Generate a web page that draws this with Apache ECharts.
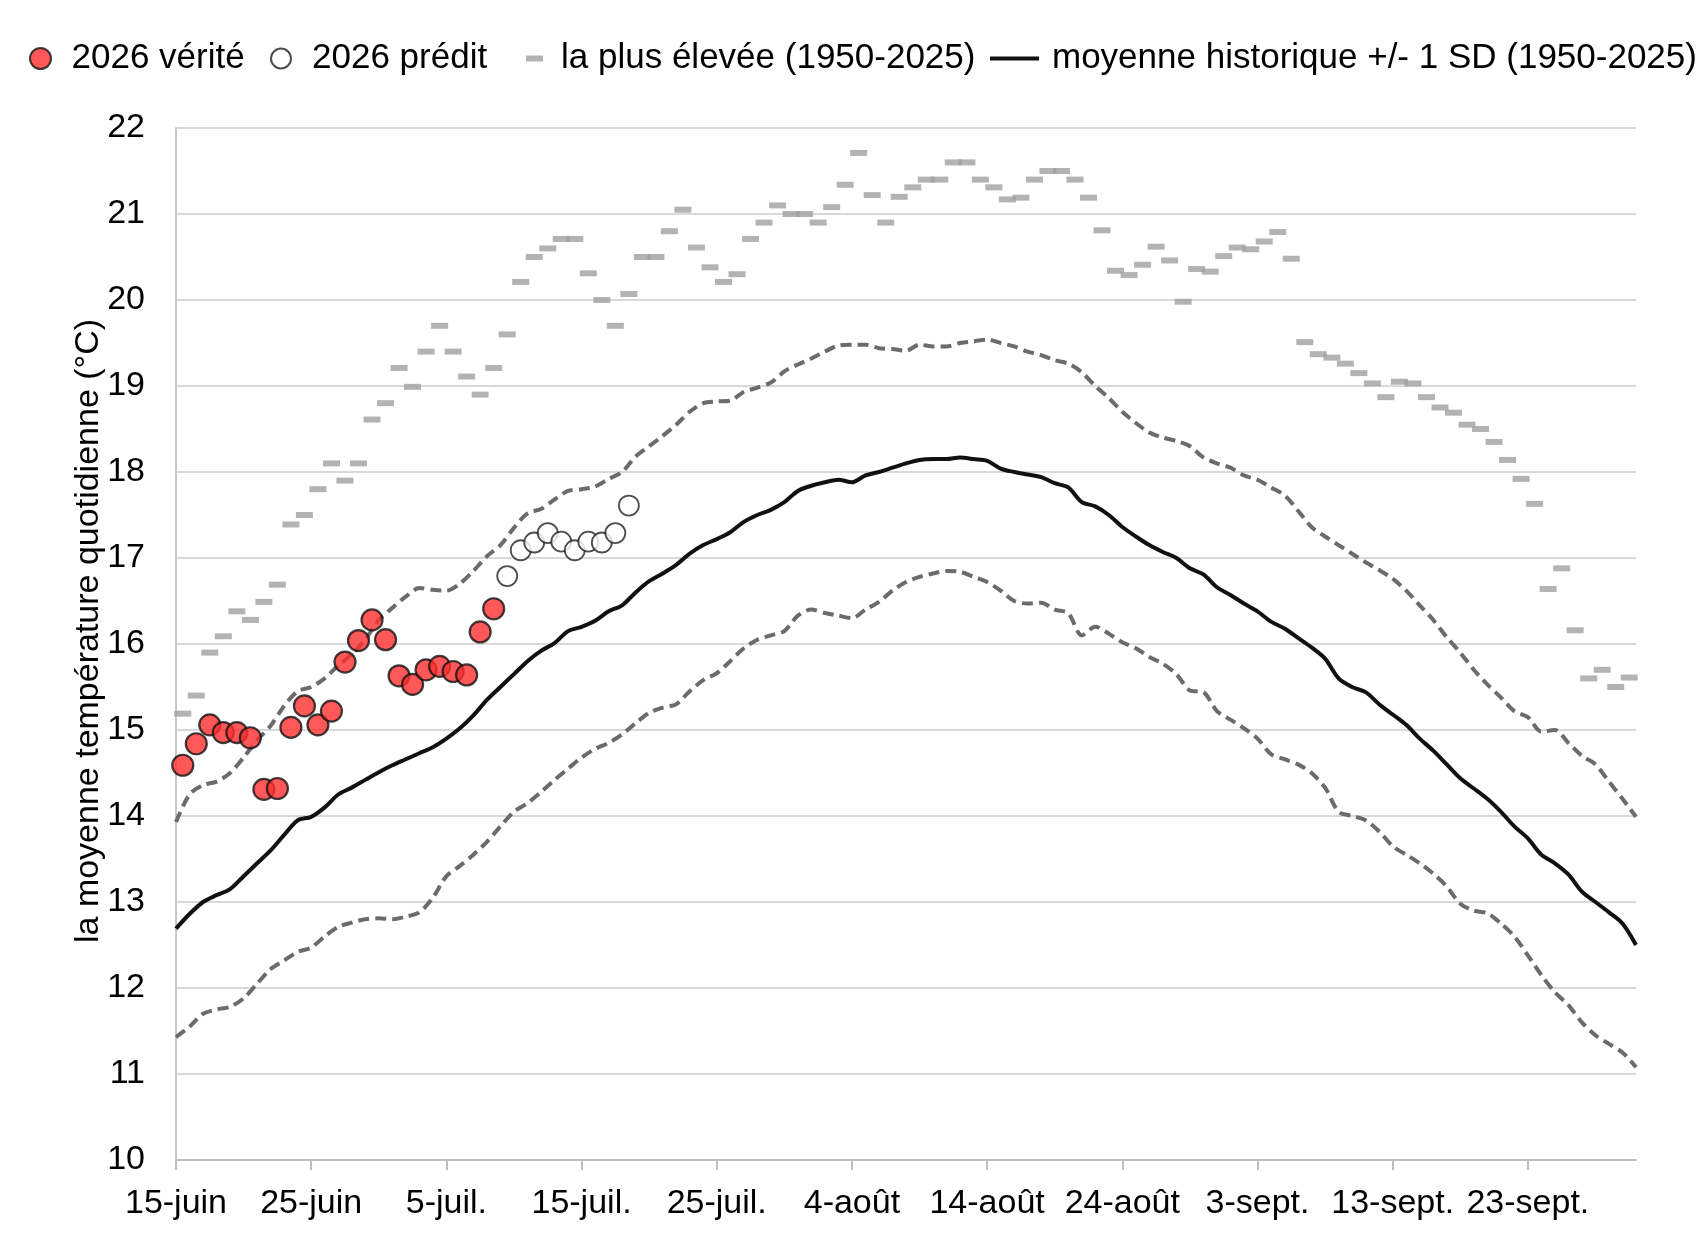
<!DOCTYPE html>
<html>
<head>
<meta charset="utf-8">
<title>Température quotidienne moyenne</title>
<script src="https://cdn.jsdelivr.net/npm/echarts@6.0.0/dist/echarts.min.js"></script>
<style>
  html, body { margin: 0; padding: 0; background: #fff; }
  #chart { width: 1700px; height: 1233px; }
</style>
</head>
<body>
<div id="chart"></div>
<script>
// days from 15-juin to 1-oct. (one value per day for the lines)
const monthNames = ['juin', 'juil.', 'août', 'sept.', 'oct.'];
const monthLengths = [30, 31, 31, 30, 31];

// 2026 observed (from 15-juin)
const observed = [
  14.59, 14.84, 15.06, 14.97, 14.97, 14.91, 14.31, 14.32, 15.03, 15.28,
  15.06, 15.22, 15.79, 16.04, 16.28, 16.05, 15.63, 15.53, 15.70, 15.74,
  15.68, 15.64, 16.14, 16.41
];

// 2026 forecast (from 9-juil.)
const predictedStart = 24;
const predicted = [16.79, 17.09, 17.18, 17.29, 17.19, 17.09, 17.19, 17.18, 17.29, 17.61];

// record high 1950-2025 (15-juin .. 30-sept.)
const record = [
  15.19, 15.40, 15.90, 16.09, 16.38, 16.28, 16.49, 16.69, 17.39, 17.50,
  17.80, 18.10, 17.90, 18.10, 18.61, 18.80, 19.21, 18.99, 19.40, 19.70,
  19.40, 19.11, 18.90, 19.21, 19.60, 20.21, 20.50, 20.60, 20.71, 20.71,
  20.31, 20.00, 19.70, 20.07, 20.50, 20.50, 20.80, 21.05, 20.61, 20.38,
  20.21, 20.30, 20.71, 20.90, 21.10, 21.00, 21.00, 20.90, 21.08, 21.34,
  21.71, 21.22, 20.90, 21.20, 21.31, 21.40, 21.40, 21.60, 21.60, 21.40,
  21.31, 21.17, 21.19, 21.40, 21.50, 21.50, 21.40, 21.19, 20.81, 20.34,
  20.29, 20.41, 20.62, 20.46, 19.98, 20.36, 20.33, 20.51, 20.61, 20.59,
  20.68, 20.79, 20.48, 19.51, 19.37, 19.33, 19.26, 19.15, 19.03, 18.87,
  19.05, 19.03, 18.87, 18.75, 18.69, 18.55, 18.50, 18.35, 18.14, 17.92,
  17.63, 16.64, 16.88, 16.16, 15.60, 15.70, 15.50, 15.61
];

// historical mean 1950-2025
const mean = [
  12.69, 12.86, 13.00, 13.08, 13.15, 13.30, 13.45, 13.60, 13.78, 13.95,
  13.99, 14.10, 14.25, 14.33, 14.42, 14.51, 14.59, 14.66, 14.73, 14.80,
  14.90, 15.02, 15.17, 15.35, 15.50, 15.65, 15.80, 15.92, 16.01, 16.15,
  16.20, 16.27, 16.38, 16.45, 16.60, 16.73, 16.82, 16.92, 17.05, 17.15,
  17.22, 17.30, 17.42, 17.50, 17.56, 17.65, 17.78, 17.84, 17.88, 17.91,
  17.88, 17.96, 18.00, 18.05, 18.10, 18.14, 18.15, 18.15, 18.17, 18.15,
  18.13, 18.04, 18.00, 17.97, 17.94, 17.87, 17.82, 17.65, 17.60, 17.50,
  17.36, 17.25, 17.15, 17.07, 17.00, 16.88, 16.81, 16.66, 16.57, 16.47,
  16.38, 16.26, 16.18, 16.07, 15.96, 15.83, 15.60, 15.50, 15.44, 15.30,
  15.18, 15.06, 14.90, 14.76, 14.60, 14.44, 14.32, 14.20, 14.05, 13.88,
  13.74, 13.55, 13.45, 13.32, 13.12, 13.00, 12.88, 12.75, 12.50
];

// mean + 1 SD
const upper = [
  13.93, 14.25, 14.36, 14.40, 14.50, 14.68, 14.88, 15.05, 15.28, 15.45,
  15.50, 15.60, 15.75, 15.88, 16.05, 16.28, 16.42, 16.55, 16.65, 16.63,
  16.62, 16.70, 16.85, 17.02, 17.15, 17.35, 17.52, 17.57, 17.68, 17.78,
  17.80, 17.83, 17.92, 18.00, 18.18, 18.30, 18.42, 18.55, 18.70, 18.80,
  18.82, 18.83, 18.93, 18.98, 19.04, 19.17, 19.25, 19.32, 19.40, 19.47,
  19.48, 19.48, 19.44, 19.43, 19.41, 19.48, 19.46, 19.46, 19.50, 19.52,
  19.54, 19.50, 19.46, 19.40, 19.36, 19.30, 19.26, 19.16, 19.00, 18.86,
  18.70, 18.57, 18.46, 18.40, 18.36, 18.30, 18.17, 18.10, 18.05, 17.96,
  17.91, 17.82, 17.73, 17.55, 17.36, 17.25, 17.15, 17.05, 16.95, 16.86,
  16.76, 16.62, 16.45, 16.28, 16.08, 15.90, 15.70, 15.53, 15.38, 15.22,
  15.15, 14.98, 15.00, 14.85, 14.70, 14.60, 14.40, 14.20, 13.99
];

// mean - 1 SD
const lower = [
  11.43, 11.55, 11.70, 11.75, 11.78, 11.88, 12.05, 12.22, 12.32, 12.42,
  12.47, 12.60, 12.71, 12.76, 12.80, 12.81, 12.80, 12.83, 12.88, 13.05,
  13.30, 13.42, 13.55, 13.70, 13.88, 14.05, 14.15, 14.28, 14.42, 14.55,
  14.68, 14.78, 14.85, 14.95, 15.08, 15.20, 15.26, 15.30, 15.45, 15.58,
  15.66, 15.80, 15.95, 16.05, 16.10, 16.15, 16.33, 16.40, 16.36, 16.33,
  16.30, 16.40, 16.49, 16.62, 16.72, 16.78, 16.82, 16.85, 16.84, 16.78,
  16.72, 16.62, 16.50, 16.47, 16.48, 16.40, 16.36, 16.10, 16.20, 16.12,
  16.02, 15.95, 15.85, 15.77, 15.65, 15.46, 15.44, 15.22, 15.12, 15.02,
  14.90, 14.72, 14.66, 14.60, 14.50, 14.33, 14.05, 14.00, 13.95, 13.82,
  13.65, 13.55, 13.45, 13.33, 13.18, 12.98, 12.90, 12.87, 12.75, 12.60,
  12.38, 12.15, 11.95, 11.80, 11.60, 11.45, 11.35, 11.25, 11.08
];

const days = [];
let month = 0;
let day = 15;
for (let i = 0; i < mean.length; i++) {
  days.push(day + '-' + monthNames[month]);
  day++;
  if (day > monthLengths[month]) {
    day = 1;
    month++;
  }
}
const dayBands = days.slice(0, record.length);

const font = 'Liberation Sans, Arial, sans-serif';
const textStyle = { fontFamily: font, fontSize: 34, color: '#000' };
const legendText = { fontFamily: font, fontSize: 35, color: '#000' };

const chart = echarts.init(document.getElementById('chart'));

chart.setOption({
  animation: false,
  backgroundColor: '#fff',
  textStyle: { fontFamily: font },
  legend: [
    {
      data: ['2026 vérité'],
      left: 24, top: 36,
      itemWidth: 38, itemHeight: 21,
      textStyle: Object.assign({ padding: [0, 0, 0, 7] }, legendText)
    },
    {
      data: ['2026 prédit'],
      left: 265, top: 36,
      itemWidth: 38, itemHeight: 20,
      textStyle: Object.assign({ padding: [0, 0, 0, 7] }, legendText)
    },
    {
      data: [{ name: 'la plus élevée (1950-2025)', icon: 'rect' }],
      left: 521, top: 36,
      itemWidth: 17, itemHeight: 6,
      textStyle: Object.assign({ padding: [0, 0, 0, 13] }, legendText)
    },
    {
      data: [{ name: 'moyenne historique +/- 1 SD (1950-2025)', icon: 'rect' }],
      left: 985, top: 36,
      itemWidth: 49, itemHeight: 4,
      textStyle: Object.assign({ padding: [0, 0, 0, 8] }, legendText)
    }
  ],
  grid: {
    left: 176,
    right: 64,
    top: 128,
    bottom: 73
  },
  xAxis: [
    {
      type: 'category',
      data: days,
      boundaryGap: false,
      axisLine: { lineStyle: { color: '#bfbfbf', width: 2 } },
      axisTick: { interval: 9, length: 10, lineStyle: { color: '#bfbfbf', width: 2 } },
      axisLabel: Object.assign({ interval: 9, margin: 27 }, textStyle),
      splitLine: { show: false }
    },
    {
      type: 'category',
      data: dayBands,
      boundaryGap: true,
      show: false
    }
  ],
  yAxis: {
    type: 'value',
    min: 10,
    max: 22,
    interval: 1,
    name: 'la moyenne température quotidienne (°C)',
    nameLocation: 'middle',
    nameGap: 70,
    nameMoveOverlap: false,
    nameTextStyle: Object.assign({ padding: [0, 0, 0, 26] }, textStyle),
    axisLine: { show: true, lineStyle: { color: '#c8c8c8', width: 2 } },
    axisTick: { show: false },
    axisLabel: Object.assign({ margin: 31 }, textStyle),
    splitLine: { lineStyle: { color: '#d9d9d9', width: 2 } }
  },
  series: [
    {
      name: 'la plus élevée (1950-2025)',
      type: 'scatter',
      xAxisIndex: 1,
      symbol: 'rect',
      symbolSize: [17, 6],
      itemStyle: { color: '#a0a0a0' },
      data: record,
      z: 2
    },
    {
      name: 'moyenne + 1 SD',
      type: 'line',
      data: upper,
      showSymbol: false,
      smooth: 0.3,
      lineStyle: { color: '#6b6b6b', width: 4, type: [11, 6] },
      itemStyle: { color: '#6b6b6b' },
      z: 3
    },
    {
      name: 'moyenne - 1 SD',
      type: 'line',
      data: lower,
      showSymbol: false,
      smooth: 0.3,
      lineStyle: { color: '#6b6b6b', width: 4, type: [11, 6] },
      itemStyle: { color: '#6b6b6b' },
      z: 3
    },
    {
      name: 'moyenne historique +/- 1 SD (1950-2025)',
      type: 'line',
      data: mean,
      showSymbol: false,
      smooth: 0.3,
      lineStyle: { color: '#111', width: 4 },
      itemStyle: { color: '#111' },
      z: 4
    },
    {
      name: '2026 vérité',
      type: 'scatter',
      xAxisIndex: 1,
      symbol: 'circle',
      symbolSize: 21,
      itemStyle: { color: '#ff2e2e', borderColor: '#111', borderWidth: 2.2 },
      data: observed,
      z: 5
    },
    {
      name: '2026 prédit',
      type: 'scatter',
      xAxisIndex: 1,
      symbol: 'circle',
      symbolSize: 20,
      itemStyle: { color: '#fff', borderColor: '#222', borderWidth: 1.8 },
      data: predicted.map((v, k) => [dayBands[predictedStart + k], v]),
      z: 5
    }
  ]
});
</script>
</body>
</html>
